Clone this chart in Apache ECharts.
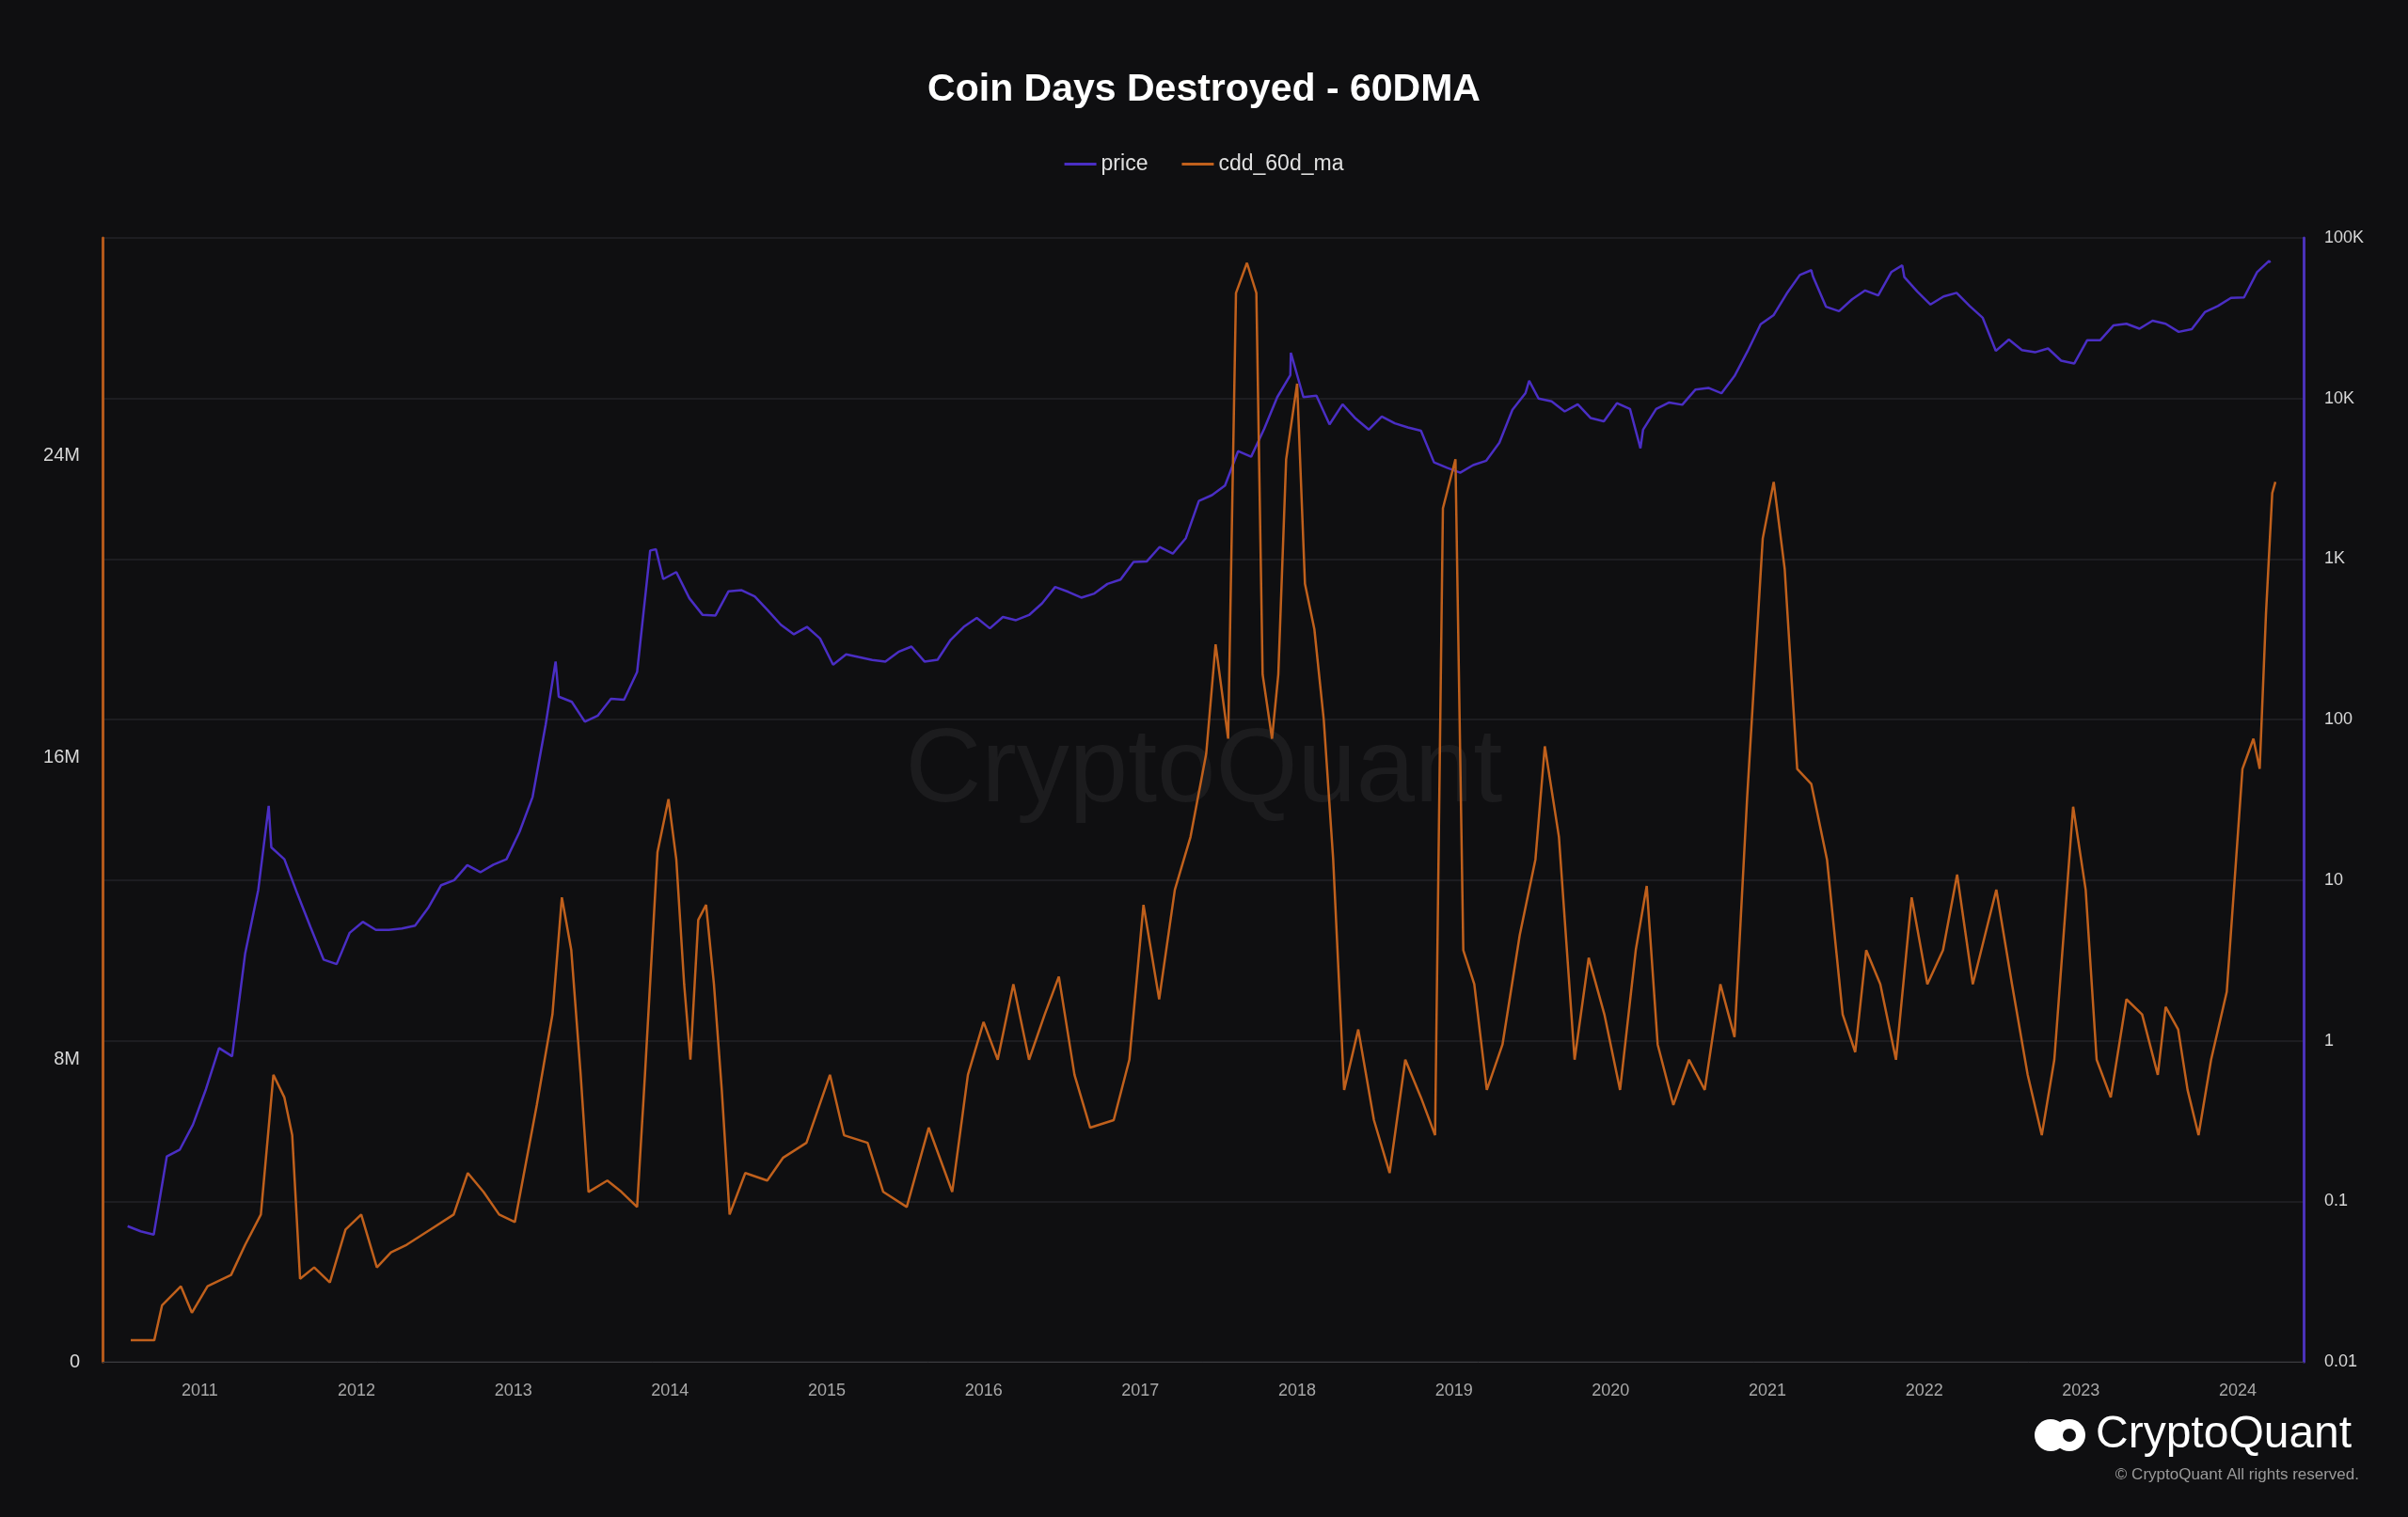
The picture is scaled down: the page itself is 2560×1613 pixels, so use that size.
<!DOCTYPE html>
<html>
<head>
<meta charset="utf-8">
<script src="https://cdn.jsdelivr.net/npm/echarts@6/dist/echarts.min.js"></script>
<style>
  html, body { margin: 0; padding: 0; background: #0f0f11; }
  #main { width: 2560px; height: 1613px; }
</style>
</head>
<body>
<div id="main"></div>
<script>
// price, monthly closes (USD), first month = 2010-07
var priceStart = 2010.54;
var priceMonthly = [
  0.07, 0.065, 0.062, 0.19, 0.21, 0.30,
  0.5, 0.9, 0.8, 3.5, 8.7, 16, 13.5, 8.2, 5.1, 3.2, 3.0, 4.7,
  5.5, 4.9, 4.9, 5.0, 5.2, 6.7, 9.3, 10, 12.4, 11.2, 12.5, 13.5,
  20, 33, 93, 139, 129, 97, 106, 135, 133, 198, 1130, 750,
  830, 570, 450, 445, 630, 640, 585, 480, 390, 340, 378, 320,
  220, 255, 245, 235, 230, 264, 285, 230, 236, 314, 378, 430,
  370, 436, 416, 448, 530, 670, 625, 575, 610, 700, 745, 960,
  965, 1190, 1080, 1350, 2300, 2500, 2870, 4700, 4340, 6470, 10200, 14000,
  10200, 10400, 6900, 9200, 7500, 6400, 7730, 7000, 6600, 6300, 4000, 3700,
  3450, 3850, 4100, 5300, 8500, 10800, 10000, 9600, 8300, 9200, 7550, 7200,
  9350, 8600, 6400, 8600, 9450, 9140, 11350, 11650, 10780, 13800, 19700, 29000,
  33100, 45100, 58800, 57700, 37300, 35000, 41500, 47100, 43800, 61300, 57000, 46300,
  38500, 43200, 45500, 37700, 31800, 19800, 23300, 20000, 19400, 20500, 17200, 16500,
  23100, 23100, 28500, 29200, 27200, 30500, 29200, 26000, 27000, 34500, 37700, 42300,
  42600, 61200, 70000
];
// extra price extremes: [decimal year, price]
var pricePeaks = [
  [2011.44, 29], [2013.27, 230], [2013.91, 1150], [2017.96, 19300],
  [2019.48, 12900], [2020.19, 4900], [2021.28, 63000], [2021.86, 67500], [2024.20, 72000]
];

// cdd_60d_ma
var cddYear = [
  2010.56, 2010.71, 2010.76, 2010.88, 2010.95, 2011.05, 2011.20, 2011.29, 2011.39, 2011.47,
  2011.54, 2011.59, 2011.64, 2011.73, 2011.83, 2011.93, 2012.03, 2012.13, 2012.22, 2012.32,
  2012.47, 2012.62, 2012.71, 2012.81, 2012.91, 2013.01, 2013.15, 2013.25, 2013.31, 2013.37,
  2013.43, 2013.48, 2013.60, 2013.69, 2013.79, 2013.84, 2013.92, 2013.99, 2014.04, 2014.09,
  2014.13, 2014.18, 2014.23, 2014.28, 2014.33, 2014.38, 2014.48, 2014.62, 2014.72, 2014.87,
  2015.02, 2015.11, 2015.26, 2015.36, 2015.51, 2015.65, 2015.80, 2015.90, 2016.00, 2016.09,
  2016.19, 2016.29, 2016.39, 2016.48, 2016.58, 2016.68, 2016.83, 2016.93, 2017.02, 2017.12,
  2017.22, 2017.32, 2017.42, 2017.48, 2017.56, 2017.61, 2017.68, 2017.74, 2017.78, 2017.84,
  2017.88, 2017.93, 2018.00, 2018.05, 2018.11, 2018.17, 2018.23, 2018.30, 2018.39, 2018.49,
  2018.59, 2018.69, 2018.79, 2018.88, 2018.93, 2019.01, 2019.06, 2019.13, 2019.21, 2019.31,
  2019.42, 2019.52, 2019.58, 2019.67, 2019.77, 2019.86, 2019.96, 2020.06, 2020.16, 2020.23,
  2020.30, 2020.40, 2020.50, 2020.60, 2020.70, 2020.79, 2020.87, 2020.97, 2021.04, 2021.11,
  2021.19, 2021.28, 2021.38, 2021.48, 2021.56, 2021.63, 2021.72, 2021.82, 2021.92, 2022.02,
  2022.12, 2022.21, 2022.31, 2022.46, 2022.56, 2022.66, 2022.75, 2022.83, 2022.95, 2023.03,
  2023.10, 2023.19, 2023.29, 2023.39, 2023.49, 2023.54, 2023.62, 2023.68, 2023.75, 2023.83,
  2023.93, 2024.03, 2024.10, 2024.14, 2024.18, 2024.22, 2024.24
];
var cddMillions = [
  0.57, 0.57, 1.5, 2.0, 1.3, 2.0, 2.3, 3.1, 3.9, 7.6,
  7.0, 6.0, 2.2, 2.5, 2.1, 3.5, 3.9, 2.5, 2.9, 3.1,
  3.5, 3.9, 5.0, 4.5, 3.9, 3.7, 6.8, 9.2, 12.3, 10.9,
  7.6, 4.5, 4.8, 4.5, 4.1, 7.6, 13.5, 14.9, 13.3, 10.0,
  8.0, 11.7, 12.1, 10.0, 7.2, 3.9, 5.0, 4.8, 5.4, 5.8,
  7.6, 6.0, 5.8, 4.5, 4.1, 6.2, 4.5, 7.6, 9.0, 8.0,
  10.0, 8.0, 9.2, 10.2, 7.6, 6.2, 6.4, 8.0, 12.1, 9.6,
  12.5, 13.9, 16.1, 19.0, 16.5, 28.3, 29.1, 28.3, 18.2, 16.5,
  18.2, 23.9, 25.9, 20.6, 19.4, 17.0, 13.3, 7.2, 8.8, 6.4,
  5.0, 8.0, 7.0, 6.0, 22.6, 23.9, 10.9, 10.0, 7.2, 8.4,
  11.3, 13.3, 16.3, 13.9, 8.0, 10.7, 9.2, 7.2, 10.9, 12.6,
  8.4, 6.8, 8.0, 7.2, 10.0, 8.6, 14.9, 21.8, 23.3, 21.0,
  15.7, 15.3, 13.3, 9.2, 8.2, 10.9, 10.0, 8.0, 12.3, 10.0,
  10.9, 12.9, 10.0, 12.5, 10.0, 7.6, 6.0, 8.0, 14.7, 12.5,
  8.0, 7.0, 9.6, 9.2, 7.6, 9.4, 8.8, 7.2, 6.0, 8.0,
  9.8, 15.7, 16.5, 15.7, 19.8, 23.0, 23.3
];
var yearTicks = [2011, 2012, 2013, 2014, 2015, 2016, 2017, 2018, 2019, 2020, 2021, 2022, 2023, 2024];
var leftTicks = [0, 8e6, 16e6, 24e6];

var priceData = priceMonthly.map(function (v, i) { return [priceStart + i / 12, v]; })
  .concat(pricePeaks)
  .sort(function (a, b) { return a[0] - b[0]; });
var cddData = cddYear.map(function (y, i) { return [y, cddMillions[i] * 1e6]; });

function fmtPrice(v) {
  if (v >= 1000) return (v / 1000) + 'K';
  return String(+v.toPrecision(2));
}

var chart = echarts.init(document.getElementById('main'), null, { renderer: 'canvas' });
chart.setOption({
  backgroundColor: '#0f0f11',
  animation: false,
  textStyle: { fontFamily: 'Liberation Sans, Arial, sans-serif' },
  title: {
    text: 'Coin Days Destroyed - 60DMA',
    left: 'center', top: 70,
    textStyle: { color: '#ffffff', fontSize: 41, fontWeight: 'bold' }
  },
  legend: {
    top: 158, left: 'center', itemGap: 36, itemWidth: 34, itemHeight: 3,
    icon: 'rect',
    textStyle: { color: '#e0e0e0', fontSize: 23 },
    data: ['price', 'cdd_60d_ma']
  },
  graphic: [
    { type: 'text', left: 'center', top: 765,
      style: { text: 'CryptoQuant', fill: 'rgba(255,255,255,0.055)', font: '500 112px Liberation Sans, Arial, sans-serif' } },
    { type: 'circle', shape: { cx: 2180, cy: 1526, r: 17 }, style: { fill: '#fff' } },
    { type: 'circle', shape: { cx: 2200, cy: 1526, r: 17 }, style: { fill: '#fff' } },
    { type: 'circle', shape: { cx: 2200, cy: 1526, r: 7 }, style: { fill: '#0f0f11' } },
    { type: 'text', x: 2228, y: 1502,
      style: { text: 'CryptoQuant', fill: '#ffffff', font: '48px Liberation Sans, Arial, sans-serif' } },
    { type: 'text', right: 52, top: 1560,
      style: { text: '© CryptoQuant All rights reserved.', fill: '#9a9a9a', font: '17px Liberation Sans, Arial, sans-serif' } }
  ],
  grid: { left: 109, right: 111, top: 253, bottom: 165 },
  xAxis: {
    type: 'value', min: 2010.38, max: 2024.42,
    axisLine: { show: true, lineStyle: { color: '#3a3a3e' } },
    axisTick: { show: false },
    splitLine: { show: false },
    axisLabel: { customValues: yearTicks, color: '#a8a8a8', fontSize: 18, margin: 22,
      formatter: function (v) { return String(Math.round(v)); } }
  },
  yAxis: [
    {
      type: 'value', min: 0, max: 29.76e6, position: 'left',
      axisLine: { show: true, lineStyle: { color: '#b3581a', width: 3 } },
      axisTick: { show: false },
      splitLine: { show: false },
      axisLabel: { customValues: leftTicks, color: '#d8d8d8', fontSize: 20, margin: 24,
        formatter: function (v) { return v === 0 ? '0' : (v / 1e6) + 'M'; } }
    },
    {
      type: 'log', logBase: 10, min: 0.01, max: 100000, position: 'right',
      axisLine: { show: true, lineStyle: { color: '#4a32b8', width: 3 } },
      axisTick: { show: false },
      splitLine: { show: true, lineStyle: { color: '#232327', width: 1.5 } },
      axisLabel: { color: '#d8d8d8', fontSize: 18, margin: 22, formatter: fmtPrice }
    }
  ],
  series: [
    {
      name: 'price', type: 'line', yAxisIndex: 1, data: priceData,
      showSymbol: false, lineStyle: { color: '#4a2ec4', width: 2.5 },
      itemStyle: { color: '#4a2ec4' }
    },
    {
      name: 'cdd_60d_ma', type: 'line', yAxisIndex: 0, data: cddData,
      showSymbol: false, lineStyle: { color: '#c0601c', width: 2.5 },
      itemStyle: { color: '#c0601c' }
    }
  ]
});
</script>
</body>
</html>
